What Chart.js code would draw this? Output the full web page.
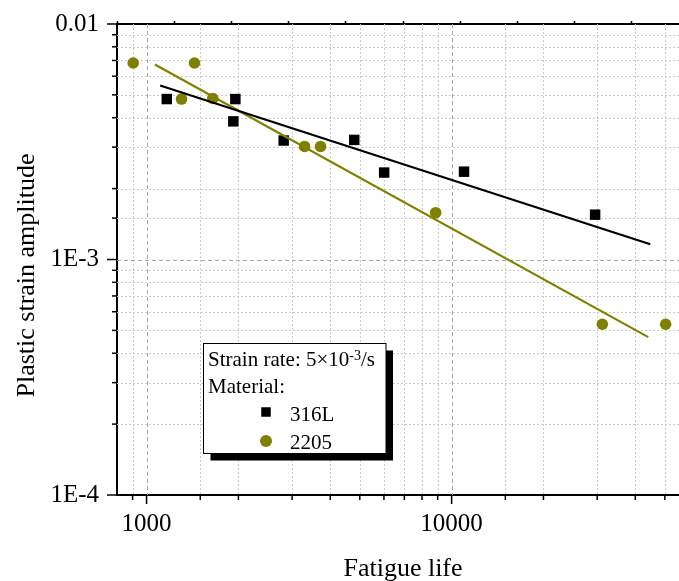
<!DOCTYPE html>
<html>
<head>
<meta charset="utf-8">
<title>Plastic strain amplitude vs fatigue life</title>
<script src="https://cdn.jsdelivr.net/npm/chart.js@4.4.0/dist/chart.umd.min.js"></script>
<style>
  html, body { margin: 0; padding: 0; background: #fff; overflow: hidden; }
  #wrap { position: relative; width: 720px; height: 581px; }
</style>
</head>
<body>
<div id="wrap"><canvas id="c" width="720" height="581"></canvas></div>
<script>
// Fatigue life (cycles to failure) and plastic strain amplitude, per steel
const life316L   = [1165, 1955, 1925, 2815, 4795, 6010, 10980, 29540];
const strain316L = [0.0048, 0.0048, 0.00386, 0.0032, 0.00322, 0.00234, 0.00236, 0.00155];
const life2205   = [904, 1436, 1302, 1648, 3296, 3719, 8867, 31200, 50300];
const strain2205 = [0.00683, 0.00683, 0.0048, 0.00483, 0.00302, 0.00302, 0.00158, 0.000531, 0.000531];

// Coffin–Manson fit lines (end points)
const fitLife316L   = [1108, 44790];
const fitStrain316L = [0.00548, 0.00116];
const fitLife2205   = [1065, 44120];
const fitStrain2205 = [0.00673, 0.000468];

const seriesNames = ['316L', '2205'];
const xTickValues = [1000, 10000];
const xTickText   = ['1000', '10000'];
const yTickValues = [0.0001, 0.001, 0.01];
const yTickText   = ['1E-4', '1E-3', '0.01'];

const BLACK = '#000000';
const OLIVE = '#808000';
const FONT = '"Liberation Serif", "Times New Roman", serif';

const toPoints = (xs, ys) => xs.map((x, i) => ({ x, y: ys[i] }));
const isDecade = v => Math.abs(Math.log10(v) - Math.round(Math.log10(v))) < 1e-6;
const labelFor = (vals, texts, v) => {
  const i = vals.findIndex(t => Math.abs(Math.log10(t) - Math.log10(v)) < 1e-6);
  return i >= 0 ? texts[i] : '';
};
const noScalePadding = s => { s.paddingTop = 0; s.paddingBottom = 0; s.paddingLeft = 0; s.paddingRight = 0; };

Chart.defaults.font.family = FONT;
Chart.defaults.color = BLACK;

// Grid lines, outward tick marks, axis titles and the boxed legend
const framePlugin = {
  id: 'frame',
  beforeDatasetsDraw(chart) {
    const { ctx, chartArea: a, scales: { x, y } } = chart;
    ctx.save();
    ctx.lineWidth = 1;
    for (const t of x.ticks) {
      const v = t.value;
      if (v <= x.min * 1.0001 || v >= x.max * 0.9999) continue;
      const major = isDecade(v);
      const p = Math.round(x.getPixelForValue(v)) + 0.5;
      ctx.strokeStyle = major ? '#a6a6a6' : '#cccccc';
      ctx.setLineDash(major ? [4, 3] : [2, 2]);
      ctx.beginPath(); ctx.moveTo(p, a.top); ctx.lineTo(p, a.bottom); ctx.stroke();
    }
    for (const t of y.ticks) {
      const v = t.value;
      if (v <= y.min * 1.0001 || v >= y.max * 0.9999) continue;
      const major = isDecade(v);
      const p = Math.round(y.getPixelForValue(v)) + 0.5;
      ctx.strokeStyle = major ? '#a6a6a6' : '#cccccc';
      ctx.setLineDash(major ? [4, 3] : [2, 2]);
      ctx.beginPath(); ctx.moveTo(a.left, p); ctx.lineTo(a.right, p); ctx.stroke();
    }
    ctx.restore();
  },
  afterDraw(chart) {
    const { ctx, chartArea: a, scales: { x, y } } = chart;
    ctx.save();
    // tick marks pointing out of the plot
    ctx.strokeStyle = BLACK;
    ctx.lineWidth = 1.5;
    for (const t of x.ticks) {
      const v = t.value;
      if (v <= x.min * 1.0001 || v >= x.max * 0.9999) continue;
      const p = x.getPixelForValue(v);
      const len = isDecade(v) ? 9 : 5;
      ctx.beginPath(); ctx.moveTo(p, a.bottom); ctx.lineTo(p, a.bottom + len); ctx.stroke();
    }
    for (const t of y.ticks) {
      const v = t.value;
      const p = y.getPixelForValue(v);
      const len = isDecade(v) ? 10 : 5;
      ctx.beginPath(); ctx.moveTo(a.left, p); ctx.lineTo(a.left - len, p); ctx.stroke();
    }

    // axis titles
    ctx.fillStyle = BLACK;
    ctx.font = '26px ' + FONT;
    ctx.textAlign = 'center';
    ctx.textBaseline = 'alphabetic';
    ctx.fillText('Fatigue life', (a.left + a.right) / 2, 576);
    ctx.save();
    ctx.translate(34, (a.top + a.bottom) / 2 + 16);
    ctx.rotate(-Math.PI / 2);
    ctx.fillText('Plastic strain amplitude', 0, 0);
    ctx.restore();

    // legend box with drop shadow
    const L = { left: 203.5, top: 343.5, w: 182.5, h: 110, off: 7 };
    ctx.fillStyle = BLACK;
    ctx.fillRect(L.left + L.off, L.top + L.off, L.w, L.h);
    ctx.fillStyle = '#ffffff';
    ctx.fillRect(L.left, L.top, L.w, L.h);
    ctx.strokeStyle = BLACK;
    ctx.lineWidth = 1;
    ctx.strokeRect(L.left, L.top, L.w, L.h);

    ctx.fillStyle = BLACK;
    ctx.textAlign = 'left';
    ctx.font = '21px ' + FONT;
    let tx = 208;
    const head = 'Strain rate: 5×10';
    ctx.fillText(head, tx, 366);
    tx += ctx.measureText(head).width;
    ctx.font = '14px ' + FONT;
    ctx.fillText('-3', tx, 360);
    tx += ctx.measureText('-3').width;
    ctx.font = '21px ' + FONT;
    ctx.fillText('/s', tx, 366);
    ctx.fillText('Material:', 208, 393);

    const ds = chart.data.datasets;
    const rows = [{ d: ds[0], y: 412, base: 421 }, { d: ds[1], y: 441, base: 448.5 }];
    for (const r of rows) {
      ctx.fillStyle = r.d.backgroundColor;
      if (r.d.pointStyle === 'rect') {
        const s = 9.5;
        ctx.fillRect(266 - s / 2, r.y - s / 2, s, s);
      } else {
        ctx.beginPath(); ctx.arc(266, r.y, 6, 0, Math.PI * 2); ctx.fill();
      }
      ctx.fillStyle = BLACK;
      ctx.fillText(r.d.label, 290, r.base);
    }
    ctx.restore();
  }
};

new Chart(document.getElementById('c'), {
  data: {
    datasets: [
      {
        type: 'scatter', label: seriesNames[0],
        data: toPoints(life316L, strain316L),
        pointStyle: 'rect', pointRadius: 7.4, pointHoverRadius: 7.4,
        backgroundColor: BLACK, borderColor: BLACK, borderWidth: 0, order: 2
      },
      {
        type: 'scatter', label: seriesNames[1],
        data: toPoints(life2205, strain2205),
        pointStyle: 'circle', pointRadius: 5.8, pointHoverRadius: 5.8,
        backgroundColor: OLIVE, borderColor: OLIVE, borderWidth: 0, order: 2
      },
      {
        type: 'line', label: seriesNames[0] + ' fit',
        data: toPoints(fitLife316L, fitStrain316L),
        borderColor: BLACK, borderWidth: 2.2, pointRadius: 0, tension: 0, fill: false, order: 1
      },
      {
        type: 'line', label: seriesNames[1] + ' fit',
        data: toPoints(fitLife2205, fitStrain2205),
        borderColor: OLIVE, borderWidth: 2.2, pointRadius: 0, tension: 0, fill: false, order: 1
      }
    ]
  },
  options: {
    responsive: false,
    animation: false,
    devicePixelRatio: 1,
    layout: { padding: { left: 0, right: 31, top: 0, bottom: 0 } },
    plugins: { legend: { display: false }, tooltip: { enabled: false } },
    scales: {
      x: {
        type: 'logarithmic', position: 'bottom', min: 800, max: 60000,
        grid: { display: false, drawTicks: false, tickLength: 0 },
        border: { display: true, color: BLACK, width: 2 },
        ticks: {
          autoSkip: false, maxRotation: 0, padding: 14,
          font: { size: 25, family: FONT }, color: BLACK,
          callback: v => labelFor(xTickValues, xTickText, v)
        },
        afterFit: s => { s.height = 86; noScalePadding(s); }
      },
      xTop: {
        type: 'linear', position: 'top', min: 0, max: 10,
        grid: { display: true, drawOnChartArea: false, drawTicks: true, tickLength: 3, tickColor: BLACK, tickWidth: 1.5 },
        border: { display: true, color: BLACK, width: 2 },
        ticks: { display: false, stepSize: 1 },
        afterFit: s => { s.height = 24; noScalePadding(s); }
      },
      y: {
        type: 'logarithmic', position: 'left', min: 0.0001, max: 0.01,
        grid: { display: false, drawTicks: false, tickLength: 0 },
        border: { display: true, color: BLACK, width: 2 },
        ticks: {
          autoSkip: false, padding: 18,
          font: { size: 25, family: FONT }, color: BLACK,
          callback: v => labelFor(yTickValues, yTickText, v)
        },
        afterFit: s => { s.width = 117; noScalePadding(s); }
      }
    }
  },
  plugins: [framePlugin]
});
</script>
</body>
</html>
